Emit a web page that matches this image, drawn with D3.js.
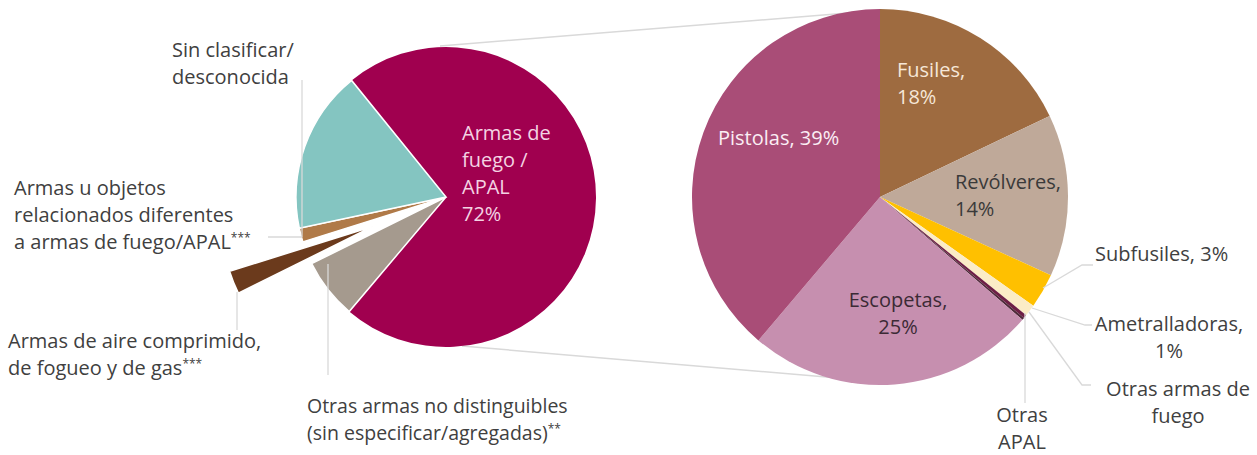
<!DOCTYPE html>
<html>
<head>
<meta charset="utf-8">
<script src="https://cdn.jsdelivr.net/npm/d3@7"></script>
<style>
  body { margin: 0; background: #fff; }
  text { font-family: "Open Sans", "Noto Sans", sans-serif; }
</style>
</head>
<body>
<svg id="chart" width="1257" height="455"></svg>
<script>
// left pie: all weapons
var leftNames = ["Armas de fuego / APAL", "Otras armas no distinguibles", "Armas de aire comprimido", "Armas u objetos relacionados", "Sin clasificar/desconocida"];
var leftValues = [72, 6.5, 2.5, 1.5, 17.5];
var leftColors = ["#a0004f", "#a59a8e", "#6b3a1c", "#b07a48", "#84c5c1"];

// right pie: breakdown of firearms
var rightNames = ["Fusiles", "Revólveres", "Subfusiles", "Ametralladoras", "Otras armas de fuego", "Otras APAL", "Escopetas", "Pistolas"];
var rightValues = [18, 14, 3, 1, 0.3, 0.2, 25, 39];
var rightColors = ["#9e6b40", "#bfa999", "#ffc000", "#fbecc6", "#6e1f45", "#4f2a3a", "#c68faf", "#a94d77"];

var svg = d3.select("#chart");
var rad = Math.PI / 180;

var lc = {x: 446, y: 197, r: 150};
var rc = {x: 880, y: 197, r: 188};

// connector lines between the pies
svg.append("line").attr("x1", 440).attr("y1", 46).attr("x2", 872).attr("y2", 11)
  .attr("stroke", "#d9d9d9").attr("stroke-width", 1.5);
svg.append("line").attr("x1", 462).attr("y1", 346).attr("x2", 838).attr("y2", 378)
  .attr("stroke", "#d9d9d9").attr("stroke-width", 1.5);

// ---- left pie
var pieL = d3.pie().sort(null).startAngle(-39 * rad).endAngle(321 * rad);
var arcL = d3.arc().innerRadius(0).outerRadius(lc.r);
var gL = svg.append("g").attr("transform", "translate(" + lc.x + "," + lc.y + ")");

gL.selectAll("path")
  .data(pieL(leftValues))
  .enter().append("path")
    .attr("d", arcL)
    .attr("fill", function(d, i) { return leftColors[i]; })
    .attr("stroke", "#fff")
    .attr("stroke-width", function(d, i) { return i == 0 ? 0 : 1.5; })
    .attr("transform", function(d, i) {
      if (i != 2) return null;
      // exploded slice
      var a = (d.startAngle + d.endAngle) / 2, off = 79;
      return "translate(" + (off * Math.sin(a)) + "," + (-off * Math.cos(a)) + ")";
    });

// ---- right pie
var pieR = d3.pie().sort(null);
var arcR = d3.arc().innerRadius(0).outerRadius(rc.r);
var gR = svg.append("g").attr("transform", "translate(" + rc.x + "," + rc.y + ")");

gR.selectAll("path")
  .data(pieR(rightValues))
  .enter().append("path")
    .attr("d", arcR)
    .attr("fill", function(d, i) { return rightColors[i]; });

// leader lines
var leaders = [
  [[302, 80], [302, 237]],
  [[268, 237], [302, 237]],
  [[237, 292], [237, 330]],
  [[328, 264], [328, 375]],
  [[1043, 288], [1082, 265], [1093, 265]],
  [[1032, 308], [1085, 325], [1092, 325]],
  [[1029, 312], [1082, 385], [1091, 385]],
  [[1025, 313], [1025, 403]]
];
svg.selectAll(".leader")
  .data(leaders)
  .enter().append("polyline")
    .attr("class", "leader")
    .attr("points", function(d) { return d.join(" "); })
    .attr("fill", "none")
    .attr("stroke", "#d9d9d9")
    .attr("stroke-width", 1.3);

// labels
var labels = [
  {x: 172, y: 57, lines: ["Sin clasificar/", "desconocida"], c: "#404040", a: "start"},
  {x: 14, y: 195, lines: ["Armas u objetos", "relacionados diferentes", "a armas de fuego/APAL***"], c: "#404040", a: "start"},
  {x: 8, y: 348, lines: ["Armas de aire comprimido,", "de fogueo y de gas***"], c: "#404040", a: "start"},
  {x: 307, y: 413, lines: ["Otras armas no distinguibles", "(sin especificar/agregadas)**"], c: "#404040", a: "start", s: 19.5},
  {x: 462, y: 140, lines: ["Armas de", "fuego /", "APAL", "72%"], c: "#f4d3e3", a: "start"},
  {x: 897, y: 77, lines: ["Fusiles,", "18%"], c: "#f6e7d8", a: "start"},
  {x: 718, y: 145, lines: ["Pistolas, 39%"], c: "#fbeef4", a: "start"},
  {x: 955, y: 189, lines: ["Revólveres,", "14%"], c: "#3a3a3a", a: "start"},
  {x: 898, y: 307, lines: ["Escopetas,", "25%"], c: "#3b2a35", a: "middle"},
  {x: 1095, y: 261, lines: ["Subfusiles, 3%"], c: "#404040", a: "start"},
  {x: 1169, y: 331, lines: ["Ametralladoras,", "1%"], c: "#404040", a: "middle"},
  {x: 1178, y: 396, lines: ["Otras armas de", "fuego"], c: "#404040", a: "middle"},
  {x: 1022, y: 422, lines: ["Otras", "APAL"], c: "#404040", a: "middle"}
];

var lab = svg.selectAll(".lab")
  .data(labels)
  .enter().append("text")
    .attr("class", "lab")
    .attr("x", function(d) { return d.x; })
    .attr("y", function(d) { return d.y; })
    .attr("fill", function(d) { return d.c; })
    .attr("text-anchor", function(d) { return d.a; })
    .style("font-size", function(d) { return (d.s || 20) + "px"; });

var line = lab.selectAll("tspan.line")
  .data(function(d) { return d.lines.map(function(t) { return {t: t, x: d.x}; }); })
  .enter().append("tspan")
    .attr("class", "line")
    .attr("x", function(d) { return d.x; })
    .attr("dy", function(d, i) { return i == 0 ? 0 : 27; });

// main text, then the footnote asterisks as small superscript
line.append("tspan").text(function(d) { return d.t.replace(/\*+$/, ""); });
line.filter(function(d) { return /\*+$/.test(d.t); })
  .append("tspan")
    .attr("baseline-shift", "55%")
    .style("font-size", "12px")
    .text(function(d) { return d.t.match(/\*+$/)[0]; });
</script>
</body>
</html>
